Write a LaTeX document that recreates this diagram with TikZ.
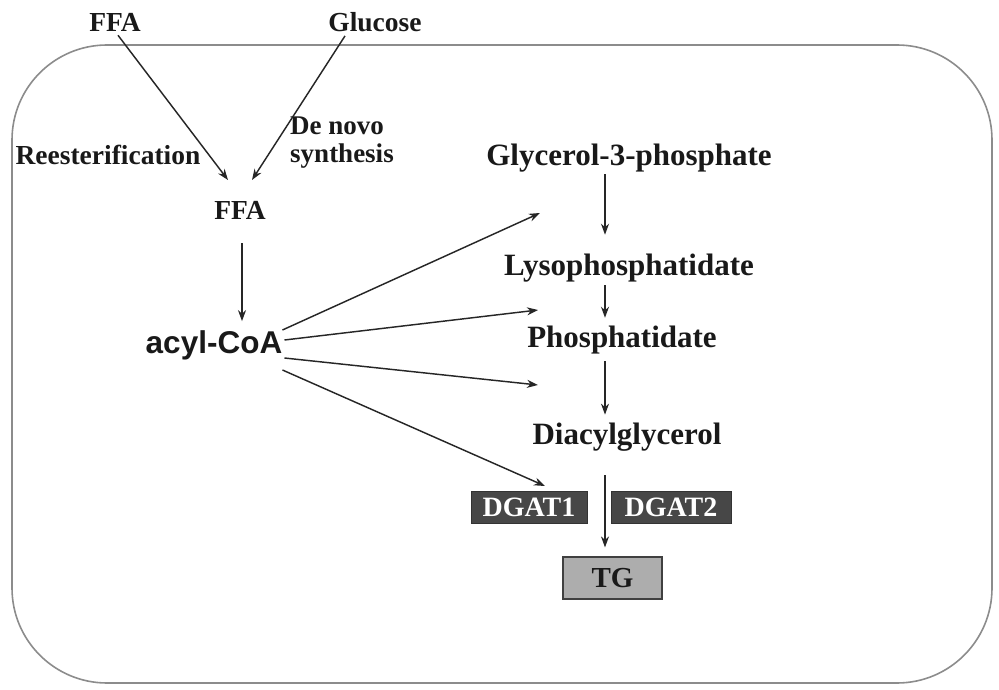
\documentclass[tikz,border=0pt]{standalone}
\usepackage{fontspec}
\setmainfont{Liberation Serif}
\newfontfamily\arialb{Liberation Sans}
\usetikzlibrary{arrows.meta,calc}
\begin{document}
\begin{tikzpicture}[x=1pt,y=-1pt,
  lbl/.style={font=\fontsize{27.5}{30}\selectfont\bfseries, text=black!90, inner sep=2pt},
  mainlbl/.style={font=\fontsize{31}{33}\selectfont\bfseries, text=black!90, inner sep=2pt},
  arr/.style={draw=black!85, line width=1.45pt, -{Stealth[length=11pt,width=8pt]}},
  enz/.style={draw=black!80, fill=black!72, text=white, font=\fontsize{28}{30}\selectfont\bfseries, minimum height=32pt, inner sep=0pt, line width=1pt},
  prod/.style={draw=black!75, fill=black!32, text=black!90, font=\fontsize{29}{30}\selectfont\bfseries, minimum width=99pt, minimum height=42pt, inner sep=0pt, line width=1.2pt}
]
\useasboundingbox (0,0) rectangle (999,690);
\fill[white] (0,0) rectangle (999,690);
\draw[black!45, line width=1.6pt, rounded corners=95pt] (12,45) rectangle (992,683);

\node[lbl] (ffaTop) at (115,22) {FFA};
\node[lbl] (glucose) at (375,22) {Glucose};
\node[lbl] (reest) at (108,155) {Reesterification};
\node[lbl, align=left, font=\fontsize{27}{28}\selectfont\bfseries] (denovo) at (342,143) {De novo\\synthesis};
\node[lbl] (ffaMid) at (240,210) {FFA};
\node[mainlbl, font=\fontsize{31.5}{33}\selectfont\arialb\bfseries] (acyl) at (214,345) {acyl-CoA};

\node[mainlbl] (g3p) at (629,158) {Glycerol-3-phosphate};
\node[mainlbl] (lyso) at (629,268) {Lysophosphatidate};
\node[mainlbl] (phos) at (622,340) {Phosphatidate};
\node[mainlbl] (dag) at (627,437) {Diacylglycerol};
\node[enz, minimum width=116pt] (dgat1) at (529,507) {DGAT1};
\node[enz, minimum width=120pt] (dgat2) at (671,507.5) {DGAT2};
\node[prod] (tg) at (612.5,578) {TG};

\coordinate (col) at (605,0);
\coordinate (in1) at (228,180);
\coordinate (in2) at (252,180);
\coordinate (t1) at (540,213);
\coordinate (t2) at (538,310);
\coordinate (t3) at (538,385);
\coordinate (t4) at (545,486);

\draw[arr] ($(ffaTop.south)+(3,2)$) -- (in1);
\draw[arr] ($(glucose.south)+(-30,2)$) -- (in2);
\draw[arr, shorten <=22pt, shorten >=7pt] (ffaMid.south -| 242,0) -- (acyl.north -| 242,0);

\draw[arr] ($(acyl.east)+(-2,-15)$) -- (t1);
\draw[arr] ($(acyl.east)+(0,-5)$) -- (t2);
\draw[arr] ($(acyl.east)+(0,13)$) -- (t3);
\draw[arr] ($(acyl.east)+(-2,25)$) -- (t4);

\draw[arr, shorten >=17pt] (g3p.south -| col) -- (lyso.north -| col);
\draw[arr, shorten <=1pt, shorten >=6pt] (lyso.south -| col) -- (phos.north -| col);
\draw[arr, shorten <=5pt, shorten >=6pt] (phos.south -| col) -- (dag.north -| col);
\draw[arr, shorten <=22pt, shorten >=9pt] (dag.south -| col) -- (tg.north -| col);
\end{tikzpicture}
\end{document}
